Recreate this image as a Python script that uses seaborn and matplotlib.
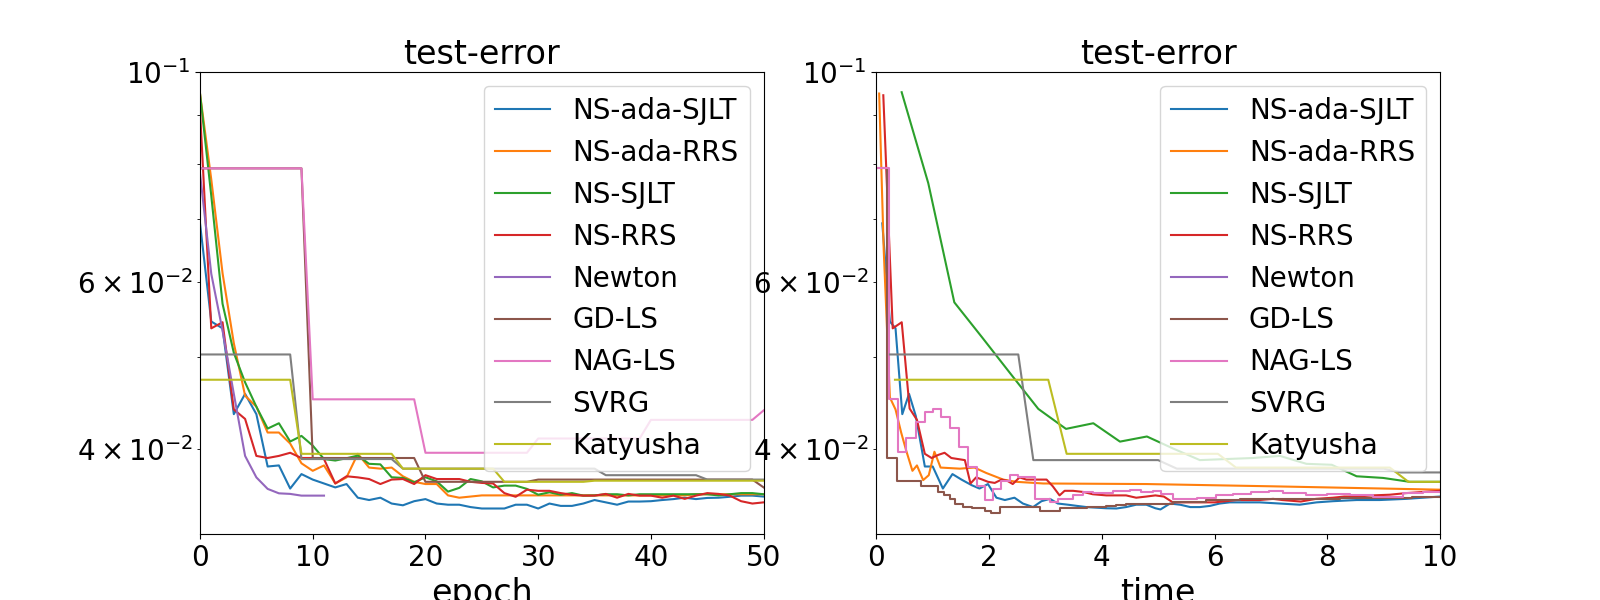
import numpy as np
import pandas as pd
import matplotlib
matplotlib.use("Agg")
import matplotlib.pyplot as plt
import seaborn as sns

plt.rcParams['font.size'] = 20
plt.rcParams['font.family'] = ['DejaVu Sans']

methods = ["NS-ada-SJLT", "NS-ada-RRS", "NS-SJLT", "NS-RRS", "Newton",
           "GD-LS", "NAG-LS", "SVRG", "Katyusha"]
colors = ["#1f77b4", "#ff7f0e", "#2ca02c", "#d62728", "#9467bd",
          "#8c564b", "#e377c2", "#7f7f7f", "#bcbd22"]

# ---------------- left panel: test error vs epoch ----------------
epochs = list(range(51))

blue_l = [0.0692, 0.0545, 0.0536, 0.0435, 0.0457, 0.0435, 0.0383, 0.0384, 0.0363, 0.0376,
          0.0371, 0.03675, 0.0364, 0.0367, 0.0355, 0.0353, 0.0355, 0.0350, 0.03485, 0.0352,
          0.03538, 0.0350, 0.0349, 0.0349, 0.0347, 0.03458, 0.03458, 0.03458, 0.0349, 0.0349,
          0.03458, 0.0350, 0.0348, 0.0348, 0.0350, 0.0353, 0.0351, 0.0349, 0.03517, 0.03517,
          0.0352, 0.0353, 0.03538, 0.0355, 0.03538, 0.03548, 0.0355, 0.03558, 0.03568, 0.03568,
          0.0356]
orange_l = [0.0949, 0.0770, 0.0613, 0.0517, 0.0455, 0.0443, 0.0416, 0.0416, 0.0405, 0.0386,
            0.0379, 0.0384, 0.03675, 0.0373, 0.0395, 0.0382, 0.0381, 0.0382, 0.0374, 0.0369,
            0.0367, 0.0367, 0.0357, 0.0355, 0.0356, 0.0357, 0.0357, 0.0357, 0.0357, 0.0357,
            0.0357, 0.0357, 0.0357, 0.0357, 0.0357, 0.0357, 0.0357, 0.0357, 0.0357, 0.0357,
            0.0357, 0.0357, 0.0357, 0.0357, 0.0358, 0.0358, 0.0358, 0.0358, 0.0358, 0.0358,
            0.0358]
green_l = [0.0949, 0.0740, 0.0569, 0.0505, 0.0470, 0.0443, 0.0420, 0.04255, 0.0407, 0.04126,
           0.0403, 0.0390, 0.03886, 0.03908, 0.03933, 0.03855, 0.0385, 0.03731, 0.03725, 0.03686,
           0.03731, 0.03694, 0.03603, 0.03636, 0.03715, 0.03694, 0.0364, 0.03656, 0.03656, 0.03627,
           0.03576, 0.03597, 0.03576, 0.0359, 0.03568, 0.0357, 0.0358, 0.0358, 0.0357, 0.0358,
           0.0358, 0.0358, 0.0358, 0.0358, 0.0358, 0.0358, 0.0357, 0.0358, 0.0359, 0.0359,
           0.0358]
red_l = [0.0911, 0.0536, 0.0544, 0.0440, 0.0430, 0.0393, 0.0391, 0.0393, 0.0396, 0.0391,
         0.0391, 0.0390, 0.03675, 0.0374, 0.0373, 0.03715, 0.0367, 0.0371, 0.03715, 0.0367,
         0.0375, 0.03715, 0.03715, 0.03715, 0.0369, 0.0368, 0.03675, 0.0359, 0.03558, 0.0362,
         0.0361, 0.0361, 0.0359, 0.03576, 0.03568, 0.03568, 0.03583, 0.0355, 0.03583, 0.03568,
         0.03568, 0.0355, 0.03568, 0.0354, 0.03568, 0.0359, 0.03583, 0.03568, 0.0352, 0.0350,
         0.0351]
purple_l = [0.0781, 0.0612, 0.0533, 0.0457, 0.0393, 0.0373, 0.03627, 0.03588, 0.03583, 0.03568,
            0.03568, 0.03568]
brown_l = [0.0791] * 10 + [0.0391] * 10 + [0.0369] * 10 + [0.0371] * 20 + [0.0364]
pink_l = [0.0791] * 10 + [0.0451] * 10 + [0.0396] * 10 + [0.0410] * 10 + [0.0429] * 10 + [0.0439]
gray_l = [0.0503] * 9 + [0.0390] * 9 + [0.0381] * 18 + [0.0375] * 9 + [0.0371] * 6
olive_l = [0.0473] * 9 + [0.0395] * 9 + [0.0381] * 9 + [0.0369] * 8 + [0.0370] * 16

left_series = [blue_l, orange_l, green_l, red_l, purple_l, brown_l, pink_l, gray_l, olive_l]

# ---------------- right panel: test error vs time ----------------
blue_t = [0.105, 0.24, 0.34, 0.46, 0.58, 0.70, 0.86, 1.0, 1.18, 1.35, 1.51, 1.69, 1.83, 1.98,
          2.13, 2.28, 2.45, 2.60, 2.78, 2.93, 3.08, 3.22, 3.40, 3.56, 3.73, 3.90, 4.08, 4.26,
          4.43, 4.61, 4.79, 4.95, 5.04, 5.21, 5.39, 5.57, 5.74, 5.92, 6.09, 6.27, 6.45, 6.8,
          7.16, 7.51, 7.81, 8.1, 8.52, 8.93, 9.4, 10.0]
blue_r = [0.0692, 0.0545, 0.0536, 0.0435, 0.0457, 0.0433, 0.0383, 0.0383, 0.0363, 0.0376,
          0.0371, 0.0366, 0.0363, 0.0367, 0.0355, 0.0353, 0.0355, 0.0350, 0.0347, 0.0352,
          0.0354, 0.0350, 0.0349, 0.0348, 0.0347, 0.03465, 0.0346, 0.03458, 0.0347, 0.0349,
          0.0349, 0.0346, 0.0345, 0.0350, 0.0349, 0.0347, 0.0347, 0.0348, 0.0350, 0.0351,
          0.0351, 0.0351, 0.0350, 0.0349, 0.0351, 0.0352, 0.0353, 0.0353, 0.0354, 0.0356]

orange_t = [0.05, 0.13, 0.24, 0.34, 0.44, 0.53, 0.64, 0.72, 0.83, 0.93, 1.03, 1.14, 1.48,
            1.74, 1.95, 2.25, 2.48, 2.96, 4.79, 7.0, 10.0]
orange_r = [0.0949, 0.065, 0.0453, 0.0440, 0.0416, 0.0398, 0.0379, 0.0384, 0.03705, 0.0375,
            0.0397, 0.0382, 0.0381, 0.0382, 0.0377, 0.0371, 0.0369, 0.03675, 0.0367, 0.0365,
            0.0362]

green_t = [0.449, 0.921, 1.383, 1.88, 2.38, 2.873, 3.364, 3.849, 4.322, 4.80, 5.27, 5.74,
           6.2, 6.68, 7.16, 7.63, 8.08, 8.52, 8.99, 9.46, 10.0]
green_r = [0.0952, 0.0763, 0.0571, 0.0524, 0.0480, 0.04406, 0.04197, 0.04255, 0.04069,
           0.0412, 0.0400, 0.0389, 0.0390, 0.0391, 0.0393, 0.03855, 0.03846, 0.0374, 0.03725,
           0.0369, 0.0369]

red_t = [0.123, 0.29, 0.37, 0.45, 0.59, 0.72, 0.86, 0.98, 1.10, 1.21, 1.33, 1.45, 1.57, 1.67,
         1.77, 1.88, 1.98, 2.10, 2.22, 2.32, 2.42, 2.54, 2.66, 2.78, 2.90, 3.02, 3.13, 3.25,
         3.34, 3.49, 3.67, 3.84, 4.08, 4.26, 4.43, 4.61, 4.79, 4.95, 5.1, 5.26, 5.5, 5.74,
         6.0, 6.2, 6.4, 6.6, 6.8, 7.04, 7.2, 7.53, 7.8, 8.1, 8.3, 8.52, 8.8, 9.11, 9.4, 9.7,
         10.0]
red_r = [0.0945, 0.0536, 0.0540, 0.0544, 0.0441, 0.0429, 0.0395, 0.0391, 0.0394, 0.0396,
         0.0391, 0.0390, 0.0389, 0.03675, 0.0373, 0.0371, 0.0369, 0.0368, 0.0371, 0.0370,
         0.0367, 0.0373, 0.0371, 0.0371, 0.0371, 0.0371, 0.0365, 0.0357, 0.0361, 0.0361,
         0.0360, 0.0358, 0.0357, 0.0357, 0.0357, 0.0355, 0.0356, 0.0357, 0.0356, 0.0351,
         0.0351, 0.0351, 0.0351, 0.0352, 0.0353, 0.0353, 0.0353, 0.0354, 0.0353, 0.03517,
         0.0354, 0.0355, 0.0356, 0.0356, 0.0357, 0.03576, 0.0359, 0.0360, 0.0361]

# Newton's first iterations take longer than the shown time window
purple_t = [11.0, 22.0, 33.0, 44.0, 55.0, 66.0, 77.0, 88.0, 99.0, 110.0, 121.0, 132.0]
purple_r = purple_l

brown_t = [0.0, 0.18, 0.37, 0.80, 1.09, 1.20, 1.30, 1.39, 1.54, 1.69, 1.92, 2.04, 2.19, 2.90,
           3.25, 3.73, 4.08, 4.26, 4.43, 5.26, 5.85, 6.45, 8.22, 8.8, 9.5, 10.0]
brown_r = [0.0791, 0.0391, 0.0370, 0.0365, 0.0360, 0.0357, 0.0354, 0.0350, 0.0347, 0.0346,
           0.0344, 0.0342, 0.0347, 0.0344, 0.0346, 0.0347, 0.0348, 0.0349, 0.0350, 0.0351,
           0.0353, 0.0354, 0.03545, 0.0355, 0.0356, 0.0356]

pink_t = [0.0, 0.22, 0.39, 0.53, 0.71, 0.86, 1.01, 1.15, 1.30, 1.47, 1.63, 1.78, 1.92, 2.07,
          2.22, 2.37, 2.51, 2.81, 3.08, 3.22, 3.49, 3.67, 3.85, 4.2, 4.5, 4.7, 4.9, 5.05, 5.26,
          5.68, 6.03, 6.32, 6.65, 6.97, 7.22, 7.63, 8.0, 8.4, 8.82, 9.35, 9.7, 10.0]
pink_r = [0.0791, 0.0451, 0.0397, 0.0410, 0.0427, 0.0437, 0.0441, 0.0432, 0.0421, 0.0402,
          0.0383, 0.0365, 0.0353, 0.0363, 0.0370, 0.0375, 0.0373, 0.0354, 0.0351, 0.0354,
          0.0357, 0.0360, 0.0359, 0.0361, 0.0362, 0.0360, 0.0361, 0.0358, 0.0354, 0.0355,
          0.0357, 0.0358, 0.0360, 0.0361, 0.0359, 0.0357, 0.0358, 0.0357, 0.0356, 0.0359,
          0.0360, 0.0360]

gray_t = [0.241, 2.518, 2.785, 5.0, 5.33, 9.0, 9.3, 10.0]
gray_r = [0.0503, 0.0503, 0.0389, 0.0389, 0.0381, 0.0381, 0.03775, 0.03775]

olive_t = [0.33, 3.05, 3.376, 6.06, 6.38, 9.11, 9.44, 10.0]
olive_r = [0.0473, 0.0473, 0.0395, 0.0395, 0.0382, 0.0382, 0.0369, 0.0369]

right_series = [(blue_t, blue_r), (orange_t, orange_r), (green_t, green_r), (red_t, red_r),
                (purple_t, purple_r), (brown_t, brown_r), (pink_t, pink_r),
                (gray_t, gray_r), (olive_t, olive_r)]
right_steps = {"GD-LS", "NAG-LS"}

fig, axes = plt.subplots(1, 2, figsize=(16, 6), dpi=100)
ax1, ax2 = axes

for name, col, vals in zip(methods, colors, left_series):
    df = pd.DataFrame({"epoch": epochs[:len(vals)], "err": vals})
    sns.lineplot(data=df, x="epoch", y="err", ax=ax1, color=col, label=name,
                 linewidth=1.5, estimator=None, sort=False)

for name, col, (tt, vals) in zip(methods, colors, right_series):
    df = pd.DataFrame({"time": tt, "err": vals})
    kw = {"drawstyle": "steps-post"} if name in right_steps else {}
    sns.lineplot(data=df, x="time", y="err", ax=ax2, color=col, label=name,
                 linewidth=1.5, estimator=None, sort=False, **kw)

for ax, xl, xmax in [(ax1, "epoch", 50), (ax2, "time", 10)]:
    ax.set_yscale("log")
    ax.set_ylim(0.0325, 0.1)
    ax.set_xlim(0, xmax)
    ax.set_title("test-error", fontsize=24)
    ax.set_xlabel(xl, fontsize=24)
    ax.set_ylabel("")
    ax.legend(loc="upper right", fontsize=20)

fig.savefig("out.png", dpi=100)
